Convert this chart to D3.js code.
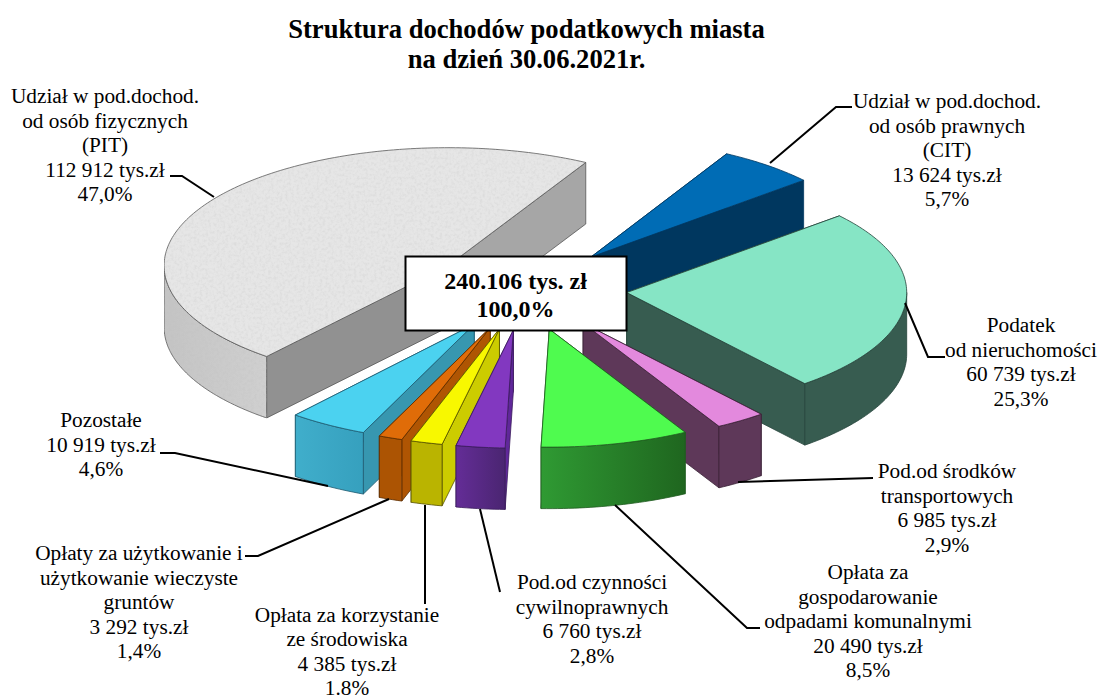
<!DOCTYPE html>
<html>
<head>
<meta charset="utf-8">
<script src="https://cdn.jsdelivr.net/npm/d3@7/dist/d3.min.js"></script>
<style>
  html, body { margin: 0; padding: 0; background: #fff; }
  text { font-family: "Liberation Serif", serif; fill: #000; }
</style>
</head>
<body>
<div id="chart"></div>
<script>
// values in clockwise order, starting from CIT
const values = [13624, 60739, 6985, 20490, 6760, 4385, 3292, 10919, 112912];

const labelTexts = [
    ["Udział w pod.dochod.", "od osób prawnych", "(CIT)", "13 624 tys.zł", "5,7%"],
    ["Podatek", "od nieruchomości", "60 739 tys.zł", "25,3%"],
    ["Pod.od środków", "transportowych", "6 985 tys.zł", "2,9%"],
    ["Opłata za", "gospodarowanie", "odpadami komunalnymi", "20 490 tys.zł", "8,5%"],
    ["Pod.od czynności", "cywilnoprawnych", "6 760 tys.zł", "2,8%"],
    ["Opłata za korzystanie", "ze środowiska", "4 385 tys.zł", "1.8%"],
    ["Opłaty za użytkowanie i", "użytkowanie wieczyste", "gruntów", "3 292 tys.zł", "1,4%"],
    ["Pozostałe", "10 919 tys.zł", "4,6%"],
    ["Udział w pod.dochod.", "od osób fizycznych", "(PIT)", "112 912 tys.zł", "47,0%"]
];

const titleLines = ["Struktura dochodów podatkowych miasta", "na dzień 30.06.2021r."];
const totalLines = ["240.106 tys. zł", "100,0%"];

const topColors  = ["#006cb5", "#86e5c5", "#e389dd", "#4ffb4f", "#8238c0", "#f8f800", "#e06c08", "#4bd2f0", "#e6e6e6"];
const sideColors = ["#00375f", "#375c50", "#5e3859", "#2f9a33", "#60279a", "#cccc00", "#af5503", "#3797b0", "#a6a6a6"];
const outerFrom  = ["#00375f", "#375c50", "#5e3859", "#2f9a33", "#642d97", "#bab400", "#ac5403", "#40aecb", "#c4c4c4"];
const outerTo    = ["#00375f", "#375c50", "#5e3859", "#1f661f", "#4a2571", "#bab400", "#ac5403", "#36a0be", "#d0d0d0"];
const edgeColors = ["#00375f", "#24423a", "#3a2236", "#1f5a1f", "#3a1c5c", "#555000", "#5a2c00", "#1f5a70", "#555555"];

// label block centre x, first baseline y, and leader polyline
const labelLayout = [
    { x: 947, y: 108, leader: [[852, 107], [836, 107], [770, 163]] },
    { x: 1021, y: 332, leader: [[945, 357], [928, 357], [905, 303]] },
    { x: 947, y: 478, leader: [[873, 478], [738, 482]] },
    { x: 868, y: 579, leader: [[760, 628], [747, 628], [615, 505]] },
    { x: 592, y: 589, leader: [[500, 592], [480, 509]] },
    { x: 347, y: 621.5, leader: [[425, 604], [425, 505]] },
    { x: 139, y: 560, leader: [[245, 556], [258, 556], [389, 499]] },
    { x: 101, y: 427, leader: [[160, 453], [175, 453], [328, 486]] },
    { x: 105, y: 103, leader: [[170, 176], [182, 176], [214, 197]] }
];

const width = 1099;
const height = 700;
const cx = 529;
const cy = 289;
const radiusX = 280;
const radiusY = 118;
const pitRadiusX = 284;
const explode = 0.35;
const frontDrift = -0.1;
const depth = 61.5;

const svg = d3.select("#chart")
    .append("svg")
    .attr("width", width)
    .attr("height", height)
    .style("display", "block");

const defs = svg.append("defs");

// speckled stone look for the PIT slice
const stone = defs.append("filter")
    .attr("id", "stone")
    .attr("x", 0).attr("y", 0).attr("width", 1).attr("height", 1);
stone.append("feTurbulence")
    .attr("type", "fractalNoise")
    .attr("baseFrequency", 0.35)
    .attr("numOctaves", 3)
    .attr("seed", 4)
    .attr("result", "noise");
stone.append("feColorMatrix")
    .attr("in", "noise")
    .attr("type", "matrix")
    .attr("values", "0 0 0 0 0.5  0 0 0 0 0.5  0 0 0 0 0.5  0.55 0 0 0 -0.22")
    .attr("result", "speck");
stone.append("feComposite")
    .attr("in", "speck")
    .attr("in2", "SourceAlpha")
    .attr("operator", "in")
    .attr("result", "speckIn");
const merge = stone.append("feMerge");
merge.append("feMergeNode").attr("in", "SourceGraphic");
merge.append("feMergeNode").attr("in", "speckIn");

// unit circle to screen
const xUnit = d3.scaleLinear().domain([-1, 1]).range([-radiusX, radiusX]);
const yUnit = d3.scaleLinear().domain([-1, 1]).range([-radiusY, radiusY]);

const startAngle = 29 * Math.PI / 180;
const pie = d3.pie()
    .value(d => d)
    .sort(null)
    .startAngle(startAngle)
    .endAngle(startAngle + 2 * Math.PI);

const slices = pie(values).map((d, i) => {
    const mid = (d.startAngle + d.endAngle) / 2;
    const ay = cy + explode * yUnit(-Math.cos(mid));
    // perspective pushes the front slices a little to the left, less on the right side
    const drift = frontDrift * Math.max(0, ay - cy) * (1 - 1.2 * Math.max(0, Math.sin(mid)));
    return {
        i,
        start: d.startAngle,
        end: d.endAngle,
        mid,
        ax: cx + explode * xUnit(Math.sin(mid)) + drift,
        ay,
        rx: i === 8 ? pitRadiusX / radiusX : 1
    };
});

const rim = (s, a) => [s.ax + s.rx * xUnit(Math.sin(a)), s.ay + yUnit(-Math.cos(a))];
const down = p => [p[0], p[1] + depth];
const line = d3.line();

function arcPoints(s, from, to) {
    const n = Math.max(2, Math.ceil((to - from) / 0.02));
    return d3.range(n + 1).map(k => rim(s, from + (to - from) * k / n));
}

// a radial wall shows if the slice lies above its top edge on screen
function wallVisible(s, a) {
    const p = rim(s, a);
    const m = rim(s, s.mid);
    const t = (m[0] - s.ax) / (p[0] - s.ax);
    return m[1] < s.ay + t * (p[1] - s.ay);
}

function drawSlice(s) {
    const g = svg.append("g").attr("class", "slice");
    const edge = edgeColors[s.i];
    const isPit = s.i === 8;

    // hidden radial walls first, so that the front faces cover them
    const walls = [s.start, s.end]
        .sort((a, b) => wallVisible(s, a) - wallVisible(s, b));
    walls.forEach(a => {
        const p = rim(s, a);
        const o = [s.ax, s.ay];
        let fill = sideColors[s.i];
        if (isPit && a === s.start) fill = "#919191";
        g.append("path")
            .attr("d", line([o, p, down(p), down(o)]) + "Z")
            .attr("fill", fill)
            .attr("stroke", edge)
            .attr("stroke-width", 0.8)
            .attr("stroke-linejoin", "round");
    });

    // outer wall, only the part that faces the viewer
    const angleFrom = Math.max(s.start, Math.PI / 2);
    const angleTo = Math.min(s.end, 3 * Math.PI / 2);
    if (angleTo > angleFrom) {
        const pts = arcPoints(s, angleFrom, angleTo);
        const gradId = "outer" + s.i;
        const xs = d3.extent(pts, p => p[0]);
        const grad = defs.append("linearGradient")
            .attr("id", gradId)
            .attr("gradientUnits", "userSpaceOnUse")
            .attr("x1", xs[0]).attr("x2", xs[1])
            .attr("y1", 0).attr("y2", 0);
        grad.append("stop").attr("offset", 0).attr("stop-color", outerFrom[s.i]);
        grad.append("stop").attr("offset", 1).attr("stop-color", outerTo[s.i]);
        g.append("path")
            .attr("d", line(pts.concat(pts.map(down).reverse())) + "Z")
            .attr("fill", `url(#${gradId})`)
            .attr("stroke", edge)
            .attr("stroke-width", 0.8)
            .attr("stroke-linejoin", "round")
            .attr("filter", isPit ? "url(#stone)" : null);
    }

    // top face
    const topPts = [[s.ax, s.ay]].concat(arcPoints(s, s.start, s.end));
    g.append("path")
        .attr("d", line(topPts) + "Z")
        .attr("fill", topColors[s.i])
        .attr("stroke", edge)
        .attr("stroke-width", 0.8)
        .attr("stroke-linejoin", "round")
        .attr("filter", isPit ? "url(#stone)" : null);
}

// back to front
const drawOrder = [8, 0, 1, 2, 7, 6, 5, 4, 3];
drawOrder.forEach(i => drawSlice(slices[i]));

// leaders
svg.append("g")
    .selectAll("path")
    .data(labelLayout)
    .join("path")
    .attr("d", d => line(d.leader))
    .attr("fill", "none")
    .attr("stroke", "#000")
    .attr("stroke-width", 2);

// labels
const lineStep = 24.5;
const labels = svg.append("g")
    .selectAll("text")
    .data(labelTexts)
    .join("text")
    .attr("text-anchor", "middle")
    .attr("font-size", 21.3);
labels.selectAll("tspan")
    .data((d, i) => d.map((t, k) => ({ t, k, i })))
    .join("tspan")
    .attr("x", d => labelLayout[d.i].x)
    .attr("y", d => labelLayout[d.i].y + d.k * lineStep)
    .text(d => d.t);

// title
svg.append("g")
    .selectAll("text")
    .data(titleLines)
    .join("text")
    .attr("x", 526.5)
    .attr("y", (d, i) => 38 + i * 30)
    .attr("text-anchor", "middle")
    .attr("font-size", 26.6)
    .attr("font-weight", "bold")
    .text(d => d);

// total box in the middle
svg.append("rect")
    .attr("x", 405.5)
    .attr("y", 256.5)
    .attr("width", 221)
    .attr("height", 74)
    .attr("fill", "#fff")
    .attr("stroke", "#000")
    .attr("stroke-width", 2);

svg.append("g")
    .selectAll("text")
    .data(totalLines)
    .join("text")
    .attr("x", 515.5)
    .attr("y", (d, i) => 289 + i * 28)
    .attr("text-anchor", "middle")
    .attr("font-size", 24)
    .attr("font-weight", "bold")
    .text(d => d);
</script>
</body>
</html>
